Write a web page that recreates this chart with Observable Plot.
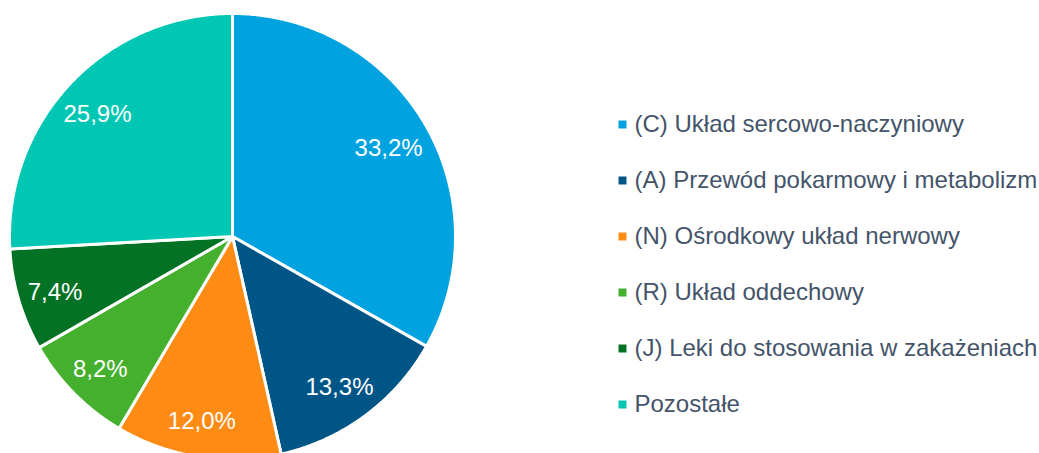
<!DOCTYPE html>
<html><head><meta charset="utf-8">
<script src="https://cdn.jsdelivr.net/npm/d3@7"></script>
<script src="https://cdn.jsdelivr.net/npm/@observablehq/plot@0.6"></script>
<style>body{margin:0;background:#fff}</style>
</head><body><div id="chart"></div>
<script>
const categories = [
  "(C) Układ sercowo-naczyniowy",
  "(A) Przewód pokarmowy i metabolizm",
  "(N) Ośrodkowy układ nerwowy",
  "(R) Układ oddechowy",
  "(J) Leki do stosowania w zakażeniach",
  "Pozostałe"
];
const shares = [33.2, 13.3, 12.0, 8.2, 7.4, 25.9];
const shareLabels = ["33,2%", "13,3%", "12,0%", "8,2%", "7,4%", "25,9%"];
const colors = ["#00A3E0", "#005587", "#FD8B14", "#44B02E", "#037224", "#00C6B4"];

// layout
const W = 1039, H = 453;
const cx = 232, cy = 236, R = 223, labelR = 183;
const legendX = 622, legendTextX = 634, legendTop = 124, legendStep = 56;
const font = "'Liberation Sans', Arial, Helvetica, sans-serif";

const arcs = d3.pie().sort(null).value(d => d)(shares);
const slices = arcs.map((a, i) => {
  const pts = [{x: cx, y: cy}];
  const n = Math.max(8, Math.ceil((a.endAngle - a.startAngle) * 120));
  for (let k = 0; k <= n; k++) {
    const t = a.startAngle + (a.endAngle - a.startAngle) * k / n;
    pts.push({x: cx + R * Math.sin(t), y: cy - R * Math.cos(t)});
  }
  pts.push({x: cx, y: cy});
  const mid = (a.startAngle + a.endAngle) / 2;
  return {pts, color: colors[i], label: shareLabels[i],
          lx: cx + labelR * Math.sin(mid), ly: cy - labelR * Math.cos(mid)};
});

const legend = categories.map((c, i) => ({name: c, color: colors[i], y: legendTop + i * legendStep}));

const chart = Plot.plot({
  width: W, height: H,
  margin: 0,
  x: {type: "identity", axis: null},
  y: {type: "identity", axis: null},
  style: {fontFamily: font, background: "#fff"},
  marks: [
    ...slices.map(s => Plot.line(s.pts, {x: "x", y: "y", fill: s.color, stroke: "white", strokeWidth: 3, strokeLinejoin: "round"})),
    Plot.text(slices, {x: "lx", y: "ly", dx: -2, dy: 4, text: "label", fill: "white", fontSize: 24, textAnchor: "middle"}),
    Plot.dot(legend, {x: () => legendX, y: "y", symbol: "square", r: 4.5, fill: "color", stroke: null}),
    Plot.text(legend, {x: () => legendTextX, y: "y", text: "name", textAnchor: "start", fontSize: 24, fill: "#44546A"})
  ]
});
document.getElementById("chart").appendChild(chart);
</script>
</body></html>
